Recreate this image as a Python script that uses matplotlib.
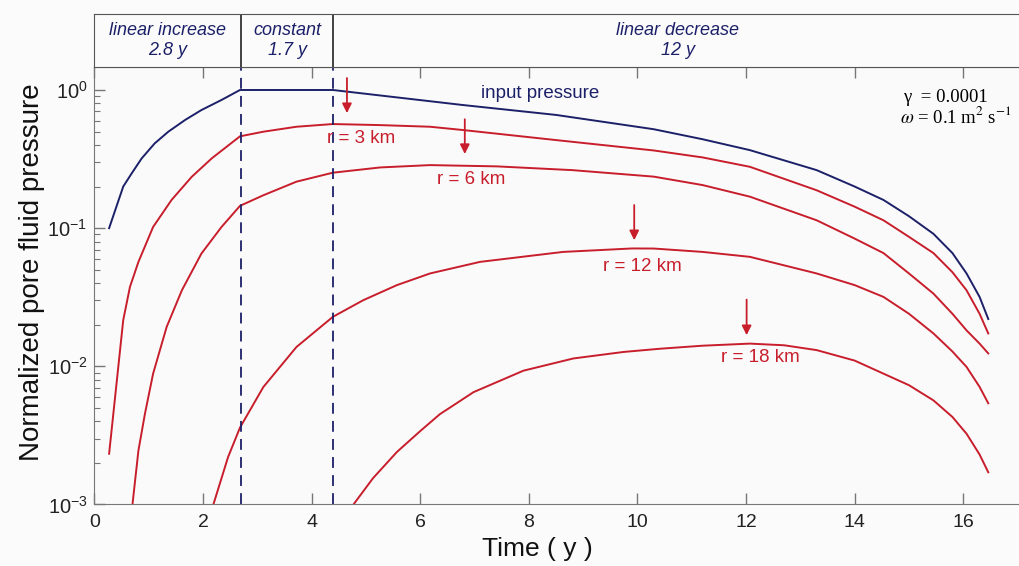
import matplotlib.pyplot as plt
import matplotlib.ticker as ticker
import numpy as np

# datos (tiempo en años, presion normalizada)
t_input = [0.27, 0.53, 0.685, 0.87, 1.11, 1.36, 1.67, 1.97, 2.34, 2.68, 4.39, 6.79, 8.5, 10.3, 11.2,
           12.07, 13.3, 14.0, 14.53, 15.0, 15.45, 15.8, 16.06, 16.3, 16.46]
p_input = [0.10, 0.20, 0.249, 0.32, 0.411, 0.499, 0.607, 0.716, 0.847, 1.0, 1.0, 0.778, 0.66, 0.52, 0.44,
           0.367, 0.263, 0.20, 0.16, 0.122, 0.091, 0.066, 0.047, 0.0318, 0.022]

t_r3 = [0.27, 0.53, 0.654, 0.81, 1.08, 1.42, 1.79, 2.16, 2.68, 3.11, 3.72, 4.39, 5.26, 6.18, 6.79, 8.5,
        10.3, 11.2, 12.07, 13.3, 14.0, 14.53, 15.0, 15.45, 15.8, 16.06, 16.3, 16.46]
p_r3 = [0.00233, 0.0216, 0.0376, 0.057, 0.102, 0.16, 0.235, 0.32, 0.462, 0.499, 0.542, 0.567, 0.557, 0.542,
        0.513, 0.434, 0.365, 0.325, 0.278, 0.188, 0.143, 0.114, 0.0865, 0.066, 0.048, 0.0355, 0.024, 0.0173]

t_r6 = [0.70, 0.81, 0.93, 1.08, 1.33, 1.61, 1.97, 2.34, 2.68, 3.11, 3.72, 4.39, 5.26, 6.18, 7.41, 8.8,
        10.3, 11.2, 12.07, 13.3, 14.0, 14.53, 15.0, 15.45, 15.8, 16.06, 16.3, 16.46]
p_r6 = [0.001, 0.00246, 0.00454, 0.00885, 0.0193, 0.0355, 0.0655, 0.102, 0.145, 0.173, 0.217, 0.252, 0.275,
        0.286, 0.28, 0.263, 0.236, 0.205, 0.169, 0.114, 0.084, 0.066, 0.047, 0.0336, 0.024, 0.0182, 0.0146, 0.0124]

t_r12 = [2.19, 2.46, 2.68, 3.11, 3.72, 4.39, 4.95, 5.57, 6.18, 7.1, 8.63, 9.9, 10.3, 11.2, 12.07, 13.3,
         14.0, 14.53, 15.0, 15.45, 15.8, 16.06, 16.3, 16.46]
p_r12 = [0.001, 0.0022, 0.0036, 0.00708, 0.0138, 0.0228, 0.0301, 0.0387, 0.047, 0.057, 0.0673, 0.0713, 0.0712,
         0.0673, 0.062, 0.047, 0.0387, 0.0318, 0.024, 0.0173, 0.0128, 0.0099, 0.0071, 0.0054]

t_r18 = [4.77, 5.13, 5.57, 6.0, 6.36, 6.98, 7.9, 8.82, 9.74, 10.41, 11.2, 12.07, 12.7, 13.3, 14.0, 14.53,
         15.0, 15.45, 15.8, 16.06, 16.3, 16.46]
p_r18 = [0.001, 0.00155, 0.0024, 0.0034, 0.0045, 0.0065, 0.0093, 0.0114, 0.0127, 0.0134, 0.0141, 0.0146,
         0.0142, 0.0131, 0.011, 0.00885, 0.0073, 0.00567, 0.0043, 0.00325, 0.0023, 0.00171]

# fases de la presion de entrada
phase_bounds = [2.7, 4.4]
phase_labels = ['linear increase\n2.8 y', 'constant\n1.7 y', 'linear decrease\n12 y']

# etiquetas de las curvas y flechas
curve_labels = ['r = 3 km', 'r = 6 km', 'r = 12 km', 'r = 18 km']
label_x = [4.92, 6.93, 10.09, 12.27]
label_y = [0.447, 0.226, 0.053, 0.0115]
arrow_x = [4.65, 6.82, 9.94, 12.01]
arrow_top = [1.22, 0.614, 0.147, 0.0304]
arrow_tip = [0.68, 0.344, 0.0818, 0.0168]

navy = '#1c2068'
red = '#c81e2c'

plt.rcParams['font.family'] = ['Liberation Sans', 'DejaVu Sans']
plt.rcParams['mathtext.fontset'] = 'stix'

fig = plt.figure(figsize=(10.2, 5.66), dpi=100, facecolor='#fbfbfb')
ax = fig.add_axes([0.0926, 0.1087, 0.9093, 0.773], facecolor='#fafafa')
hd = fig.add_axes([0.0926, 0.8816, 0.9093, 0.0936], facecolor='#fbfbfb')

xmax = 17.08

ax.plot(t_input, p_input, color=navy, lw=1.4)
for t, p in [(t_r3, p_r3), (t_r6, p_r6), (t_r12, p_r12), (t_r18, p_r18)]:
    ax.plot(t, p, color=red, lw=1.4)

for b in phase_bounds:
    ax.axvline(b, color=navy, lw=1.3, ls=(0, (6, 4)))

ax.text(8.2, 0.95, 'input pressure', color=navy, fontsize=13.5, ha='center', va='center')
for i in range(len(curve_labels)):
    ax.text(label_x[i], label_y[i], curve_labels[i], color=red, fontsize=13.5, ha='center', va='center')
    ax.annotate('', xy=(arrow_x[i], arrow_tip[i]), xytext=(arrow_x[i], arrow_top[i]),
                arrowprops=dict(arrowstyle='-|>', color=red, lw=1.3, mutation_scale=14,
                                shrinkA=0, shrinkB=0))

ax.set_yscale('log')
ax.set_ylim(1e-3, 1.468)
ax.set_xlim(0, xmax)
ax.xaxis.set_major_locator(ticker.MultipleLocator(2))
ax.yaxis.set_major_locator(ticker.LogLocator(base=10, numticks=10))
ax.yaxis.set_minor_locator(ticker.LogLocator(base=10, subs=np.arange(2, 10), numticks=10))
ax.yaxis.set_minor_formatter(ticker.NullFormatter())
ax.tick_params(which='both', direction='in', top=True, right=False, color='#777777', labelcolor='#222222')
ax.tick_params(which='major', length=8, width=1)
ax.tick_params(which='minor', length=4, width=0.8)
ax.tick_params(axis='x', labelsize=14, pad=7)
ax.tick_params(axis='y', labelsize=14.5, pad=5)
for s in ax.spines.values():
    s.set_color('#777777')

ax.set_xlabel('Time ( y )', fontsize=19, color='#111111')
ax.xaxis.set_label_coords(0.478, -0.075)
ax.set_ylabel('Normalized pore fluid pressure', fontsize=20, color='#111111')
ax.yaxis.set_label_coords(-0.053, 0.531)

ax.text(0.885, 0.8286, 'γ  = 0.0001', transform=fig.transFigure, fontsize=13.5,
        family=['Liberation Serif', 'DejaVu Serif'], va='center')
ax.text(0.882, 0.7933, r'$\omega$ = 0.1 m$^2$ s$^{-1}$', transform=fig.transFigure, fontsize=13.5,
        family=['Liberation Serif', 'DejaVu Serif'], va='center')

# cabecera con las fases
hd.set_xlim(0, xmax)
hd.set_ylim(0, 1)
hd.set_xticks([])
hd.set_yticks([])
for s in hd.spines.values():
    s.set_color('#555555')
edges = [0] + phase_bounds + [xmax]
for b in phase_bounds:
    hd.axvline(b, color='#222222', lw=1.2)
for i in range(len(phase_labels)):
    hd.text((edges[i] + edges[i + 1]) / 2, 0.5, phase_labels[i], ha='center', va='center',
            fontsize=13, style='italic', color=navy, linespacing=1.2)

plt.savefig('out.png', dpi=100, facecolor=fig.get_facecolor())
